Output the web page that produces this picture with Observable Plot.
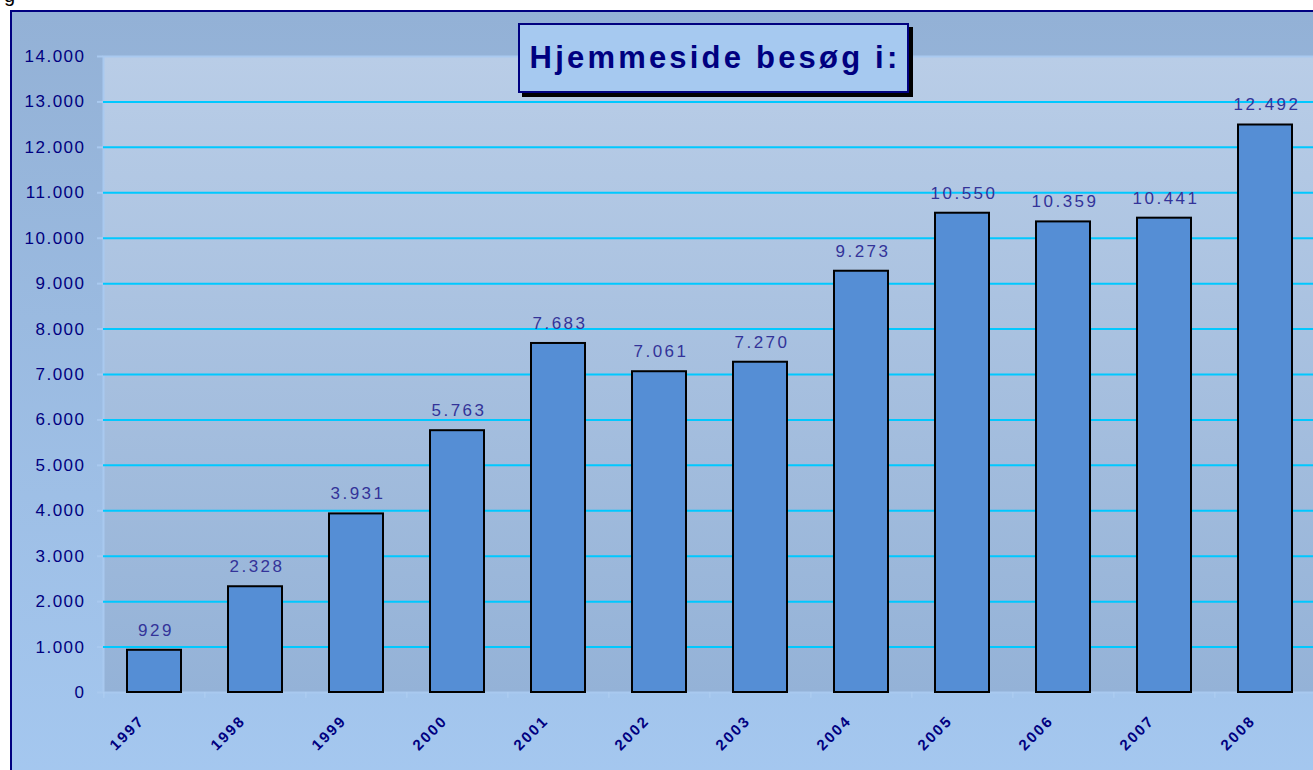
<!DOCTYPE html>
<html><head><meta charset="utf-8">
<script src="https://cdn.jsdelivr.net/npm/d3@7"></script>
<script src="https://cdn.jsdelivr.net/npm/@observablehq/plot@0.6"></script>
<style>
html,body{margin:0;padding:0;background:#fff;width:1313px;height:770px;overflow:hidden;position:relative;}
#frame{position:absolute;left:10px;top:10px;width:1330px;height:790px;border-left:2px solid #000080;border-top:2px solid #000080;background:linear-gradient(#93b1d6,#a5c8f0);}
#chart{position:absolute;left:0;top:0;width:1313px;height:770px;overflow:hidden;}
#title{position:absolute;left:518px;top:23px;width:391px;height:70px;box-sizing:border-box;background:#a6c9f0;border:2px solid #000080;box-shadow:4px 4px 0 #000;font:bold 31px "Liberation Sans",Arial,sans-serif;color:#000080;letter-spacing:3.2px;display:flex;align-items:center;justify-content:center;padding-left:3px;}
#g{position:absolute;left:4px;top:-15px;font:20px "Liberation Sans",Arial,sans-serif;color:#000;line-height:20px;}
g[aria-label="y-axis tick label"] text{letter-spacing:1.5px;}
g.vals text{letter-spacing:2.5px;}
g.xlab text{letter-spacing:2.2px;}
</style></head><body>
<div id="g">g</div>
<div id="frame"></div>
<div id="chart"></div>
<div id="title">Hjemmeside besøg i:</div>
<script>
const years = ["1997","1998","1999","2000","2001","2002","2003","2004","2005","2006","2007","2008"];
const visits = [929, 2328, 3931, 5763, 7683, 7061, 7270, 9273, 10550, 10359, 10441, 12492];
const yTicks = [0,1000,2000,3000,4000,5000,6000,7000,8000,9000,10000,11000,12000,13000,14000];

const fmt = d3.formatLocale({decimal: ",", thousands: ".", grouping: [3], currency: ["", ""]}).format(",d");
const data = years.map((year, i) => ({year, value: visits[i]}));
const gridTicks = yTicks.filter(t => t > 0 && t < 14000);

function gradientDefs() {
  const ns = "http://www.w3.org/2000/svg";
  const g = document.createElementNS(ns, "g");
  const defs = document.createElementNS(ns, "defs");
  const lg = document.createElementNS(ns, "linearGradient");
  lg.setAttribute("id", "plotBg");
  lg.setAttribute("x1", "0"); lg.setAttribute("y1", "0");
  lg.setAttribute("x2", "0"); lg.setAttribute("y2", "1");
  [["0", "#b9cde7"], ["1", "#94b2d7"]].forEach(([o, c]) => {
    const s = document.createElementNS(ns, "stop");
    s.setAttribute("offset", o); s.setAttribute("stop-color", c);
    lg.appendChild(s);
  });
  defs.appendChild(lg); g.appendChild(defs);
  return g;
}

function addClass(mark, cls) {
  const render = mark.render;
  mark.render = function(...args) {
    const n = render.apply(this, args);
    if (n) n.classList.add(cls);
    return n;
  };
  return mark;
}

const plot = Plot.plot({
  width: 1313,
  height: 770,
  marginLeft: 103,
  marginTop: 56,
  marginBottom: 78,
  marginRight: -6,
  style: {background: "transparent", fontFamily: "'Liberation Sans', Arial, sans-serif"},
  x: {domain: years, range: [103, 1317], paddingInner: 0.465, paddingOuter: 0.2325, axis: null},
  y: {domain: [0, 14000], range: [692, 56], axis: null},
  marks: [
    gradientDefs,
    Plot.frame({fill: "url(#plotBg)", stroke: "#a9c9ef", strokeWidth: 2}),
    Plot.ruleY(gridTicks, {stroke: "#00c8ff", strokeWidth: 2}),
    Plot.ruleX(years, {x: d => d, y1: 0, y2: -130, dx: -50.6, stroke: "#b0cff2", strokeWidth: 1}),
    Plot.axisY({ticks: yTicks, tickFormat: fmt, label: null, tickSize: 6, tickPadding: 12, fontSize: 17, fill: "#000080", stroke: "#a9c9ef", strokeWidth: 2}),
    Plot.barY(data, {x: "year", y: "value", fill: "#558ed5", stroke: "#000", strokeWidth: 2}),
    addClass(Plot.text(data, {x: "year", y: "value", text: d => fmt(d.value), dy: -20, dx: 1.5, fill: "#333399", fontSize: 17}), "vals"),
    addClass(Plot.text(data, {x: "year", text: "year", frameAnchor: "bottom", dx: -9, dy: 29, rotate: -45, textAnchor: "end", fill: "#000080", fontSize: 15, fontWeight: "bold"}), "xlab")
  ]
});
document.getElementById("chart").appendChild(plot);
</script>
</body></html>
